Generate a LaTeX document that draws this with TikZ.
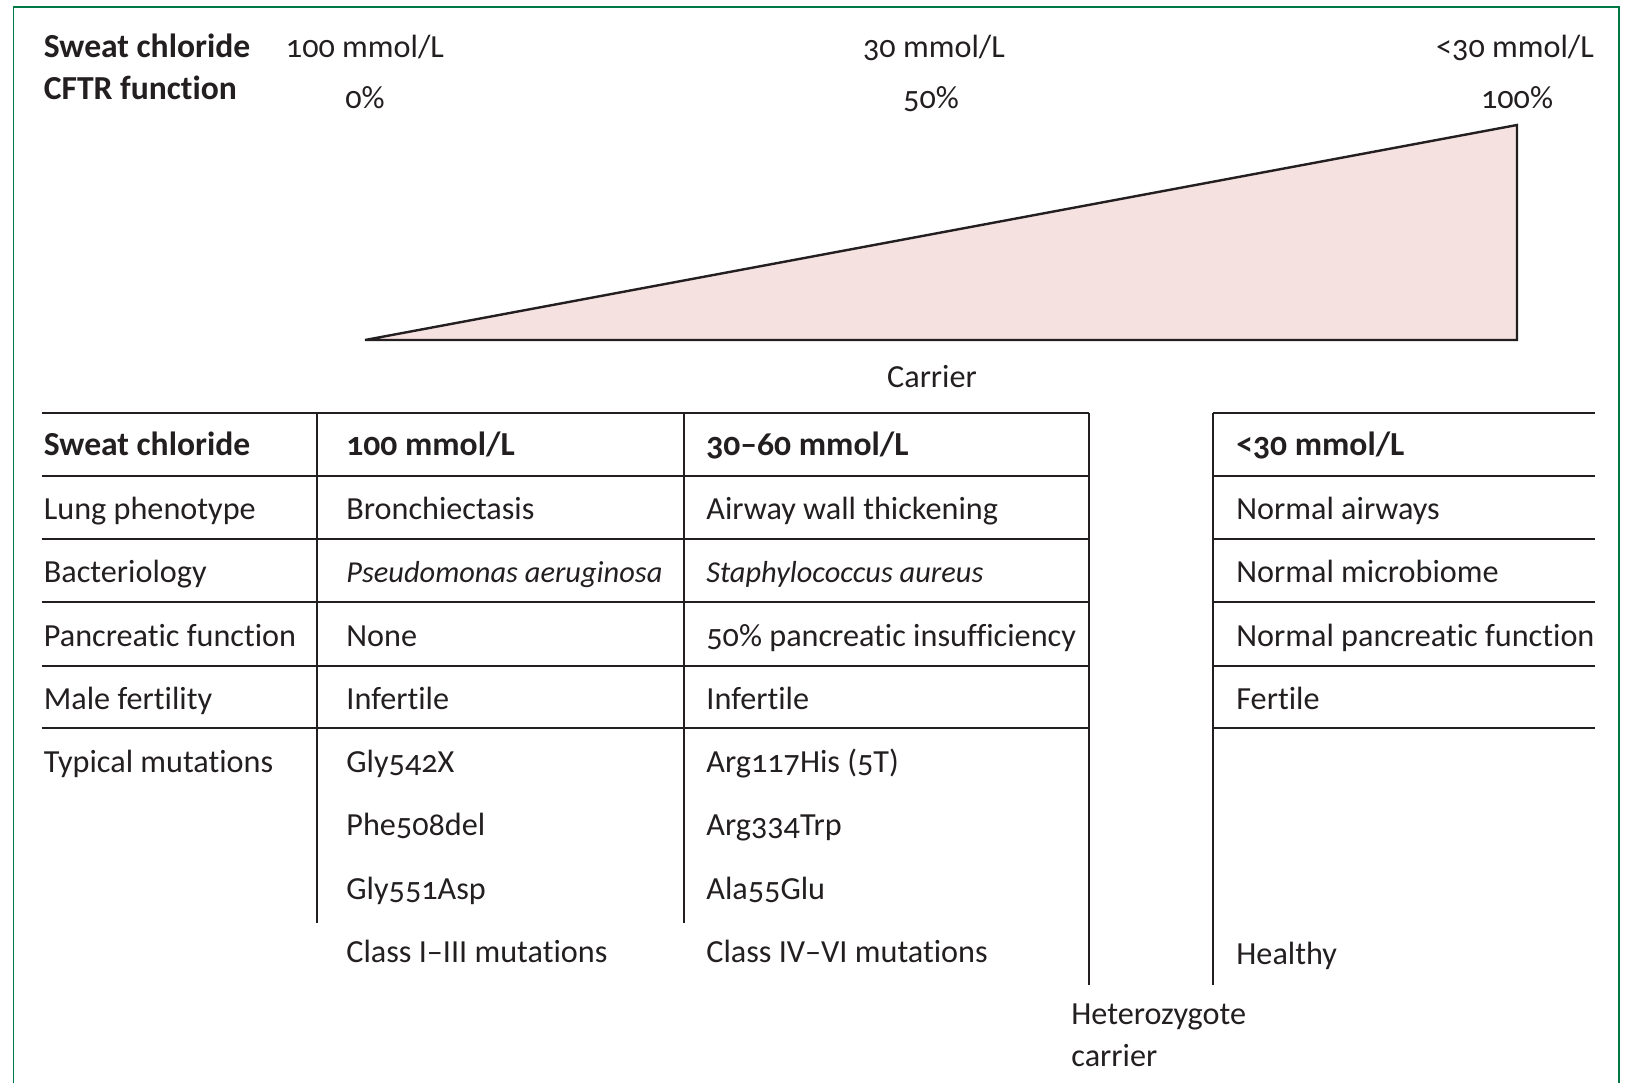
\documentclass[tikz,border=0pt]{standalone}
\usepackage{fontspec}
\setmainfont{Carlito}[Numbers=OldStyle, Ligatures=NoCommon]
\definecolor{framegreen}{RGB}{0,120,70}
\definecolor{wedgepink}{RGB}{245,225,224}
\definecolor{ink}{RGB}{35,31,32}
\tikzset{
  cell/.style={anchor=base west, inner sep=0pt, text=ink, font=\fontsize{16.1}{19}\selectfont},
  hcell/.style={cell, font=\fontsize{16.8}{19}\selectfont\bfseries},
  icell/.style={cell, font=\fontsize{15.2}{19}\selectfont\itshape},
  scalelbl/.style={cell, anchor=base},
  gridline/.style={draw=ink, line width=1.2pt}
}
\begin{document}
\begin{tikzpicture}[x=0.5pt, y=-0.5pt]
\useasboundingbox (0,0) rectangle (1626,1083);
% frame, open at the bottom
\draw[framegreen, line width=0.8pt] (13.5,1083)--(13.5,7)--(1619,7)--(1619,1083);

% scale above the wedge
\node[hcell] (sweat) at (43.5,57) {Sweat chloride};
\node[hcell] (cftr) at (43.5,99) {CFTR function};
\node[scalelbl] (sc100) at (365,57) {100 mmol/L};
\node[scalelbl] (sc30) at (934,57) {30 mmol/L};
\node[scalelbl] (sclt30) at (1515,57) {<30 mmol/L};
\node[scalelbl] (pc0) at (365,108) {0\%};
\node[scalelbl] (pc50) at (931,108) {50\%};
\node[scalelbl] (pc100) at (1517,108) {100\%};

% wedge
\coordinate (w0) at (365,340);
\coordinate (w1) at (1517,340);
\coordinate (w2) at (1517,125);
\draw[gridline, fill=wedgepink] (w0)--(w1)--(w2)--cycle;
\node[scalelbl] (carrier) at (932,387) {Carrier};

% table grid
\foreach \y in {413,476,539,602,666,728}{
  \draw[gridline] (41.5,\y)--(1089,\y);
  \draw[gridline] (1213,\y)--(1595,\y);
}
\draw[gridline] (317,413)--(317,923);
\draw[gridline] (684,413)--(684,923);
\draw[gridline] (1089,413)--(1089,985);
\draw[gridline] (1213,413)--(1213,985);

% first column
\node[hcell] (h0) at (43.5,455) {Sweat chloride};
\node[cell] (lung) at (43.5,519) {Lung phenotype};
\node[cell] (bact) at (43.5,582) {Bacteriology};
\node[cell] (panc) at (43.5,646) {Pancreatic function};
\node[cell] (fert) at (43.5,709) {Male fertility};
\node[cell] (muts) at (43.5,772) {Typical mutations};

% 100 mmol/L
\node[hcell] (h1) at (346,455) {100 mmol/L};
\node[cell] (lung1) at (346,519) {Bronchiectasis};
\node[icell] (bact1) at (346,582) {Pseudomonas aeruginosa};
\node[cell] (panc1) at (346,646) {None};
\node[cell] (fert1) at (346,709) {Infertile};
\node[cell] (mutA1) at (346,772) {Gly542X};
\node[cell] (mutB1) at (346,835) {Phe508del};
\node[cell] (mutC1) at (346,899) {Gly551Asp};
\node[cell] (cls1) at (346,962) {Class I–III mutations};

% 30-60 mmol/L
\node[hcell] (h2) at (706,455) {30–60 mmol/L};
\node[cell] (lung2) at (706,519) {Airway wall thickening};
\node[icell] (bact2) at (706,582) {Staphylococcus aureus};
\node[cell] (panc2) at (706,646) {50\% pancreatic insufficiency};
\node[cell] (fert2) at (706,709) {Infertile};
\node[cell] (mutA2) at (706,772) {Arg117His (5T)};
\node[cell] (mutB2) at (706,835) {Arg334Trp};
\node[cell] (mutC2) at (706,899) {Ala55Glu};
\node[cell] (cls2) at (706,962) {Class IV–VI mutations};

% <30 mmol/L
\node[hcell] (h3) at (1236,455) {<30 mmol/L};
\node[cell] (lung3) at (1236,519) {Normal airways};
\node[cell] (bact3) at (1236,582) {Normal microbiome};
\node[cell] (panc3) at (1236,646) {Normal pancreatic function};
\node[cell] (fert3) at (1236,709) {Fertile};
\node[cell] (healthy) at (1236,964) {Healthy};

\node[cell] (hetero) at (1071,1024) {Heterozygote};
\node[cell] (hcarrier) at (1071,1066) {carrier};
\end{tikzpicture}
\end{document}
